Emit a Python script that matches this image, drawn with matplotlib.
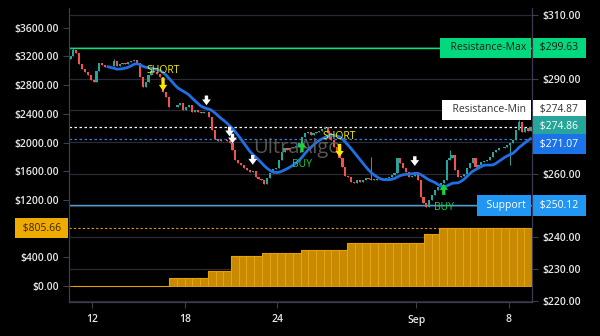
import matplotlib
matplotlib.use("Agg")
import matplotlib.pyplot as plt
import numpy as np
import pandas as pd

plt.rcParams['font.family'] = ['Open Sans', 'DejaVu Sans']

# closing prices, 8 bars per trading day (Aug 11 .. Sep 8)
closes = [
    297.0, 299.0, 298.0, 294.5, 293.0, 292.0, 291.2, 289.6,
    289.0, 292.5, 294.8, 294.2, 293.5, 293.8, 294.0, 295.5,
    294.0, 294.6, 295.0, 294.5, 295.2, 295.6, 295.8, 294.8,
    290.5, 287.5, 289.0, 291.0, 292.5, 292.0, 291.5, 290.6,
    285.8, 284.3, 281.2, 281.0, 281.2, 281.8, 282.2, 280.2,
    281.2, 281.8, 279.6, 280.2, 279.6, 279.3, 279.4, 279.6,
    278.0, 273.9, 271.0, 270.5, 270.8, 270.6, 270.2, 269.8,
    267.6, 264.4, 263.5, 262.9, 261.9, 261.3, 260.7, 260.9,
    259.0, 258.5, 258.1, 256.9, 258.8, 260.3, 261.5, 261.9,
    264.4, 267.0, 268.2, 267.6, 268.2, 268.5, 268.6, 269.8,
    271.5, 273.0, 273.3, 272.3, 273.0, 273.3, 273.6, 274.0,
    274.8, 273.0, 270.8, 268.5, 267.0, 265.0, 262.2, 259.5,
    259.1, 257.5, 257.2, 258.0, 257.5, 258.2, 258.8, 258.5,
    258.1, 258.4, 258.1, 258.0, 258.3, 258.8, 259.0, 259.6,
    260.3, 265.0, 263.5, 262.0, 260.7, 259.1, 259.5, 260.5,
    258.1, 252.8, 250.9, 249.6, 251.8, 253.5, 255.0, 256.0,
    257.2, 258.1, 264.4, 265.1, 266.0, 261.3, 259.1, 259.2,
    260.0, 261.9, 263.5, 265.1, 262.2, 262.9, 263.8, 264.0,
    264.5, 265.4, 266.8, 267.6, 268.0, 268.2, 268.6, 269.1,
    269.6, 270.8, 273.9, 276.3, 273.3, 274.5, 273.4, 274.86,
]
first_open = 296.0
wick_hi = {1: 299.63, 15: 296.2, 104: 265.4, 131: 267.6, 155: 277.0}
wick_lo = {152: 262.9}
bars_per_day = 8
ma_window = 14

# trade signals (bar index)
short_bars = [32, 93]
buy_bars = [80, 129]
exit_bars = [47, 55, 56, 63, 119]

# cumulative profit, 3 bars per trading day
profit = [
    0, 0, 0, 0, 0, 0, 0, 0, 0, 0, 0, 0, 0,
    107, 107, 107, 107, 107,
    205, 205, 205,
    414, 414, 414, 414,
    456, 456, 456, 456, 456,
    497, 497, 497, 497, 497, 497,
    595, 595, 595, 595, 595, 595, 595, 595, 595, 595,
    720, 720,
    805.66, 805.66, 805.66, 805.66, 805.66, 805.66,
    805.66, 805.66, 805.66, 805.66, 805.66, 805.66,
]

resistance_max = 299.63
resistance_min = 274.87
support = 250.12

day_ticks = [1, 5, 9, 15, 19]
day_labels = ["12", "18", "24", "Sep", "8"]
left_ticks = [0, 400, 1200, 1600, 2000, 2400, 2800, 3200, 3600]
right_ticks = [220, 230, 240, 250, 260, 270, 280, 290, 300, 310]
right_shown = [220, 230, 240, 260, 290, 310]

UP, DOWN = '#26a69a', '#ef5350'
GRID = '#2b2b36'
SPINE = '#3d3d52'
TXT = '#e6e6e6'

fig = plt.figure(figsize=(6, 3.36), dpi=100, facecolor='black')
ax = fig.add_axes([69 / 600, 34 / 336, 463 / 600, 294 / 336])
px = ax.twinx()
# profit axes sits above the price axes so its bars hide the price grid
ax.set_zorder(2)
px.set_zorder(1)
ax.patch.set_visible(False)
px.patch.set_visible(True)
px.patch.set_facecolor('black')

ndays = len(closes) / bars_per_day
ax.set_xlim(0, ndays)
ax.set_ylim(-223, 3875)
px.set_ylim(219.7, 312.2)

# grid and axes styling
ax.set_xticks(day_ticks)
ax.set_xticklabels(day_labels)
ax.set_yticks(left_ticks)
ax.set_yticklabels([f"${v:.2f}" for v in left_ticks])
px.set_yticks(right_ticks)
px.set_yticklabels([f"${v:.2f}" if v in right_shown else "" for v in right_ticks])
px.grid(axis='both', color=GRID, lw=0.9)
for a in (ax, px):
    a.tick_params(colors=SPINE, labelcolor=TXT, labelsize=7.5, length=4, width=0.8)
    for s in a.spines.values():
        s.set_color(SPINE)
    a.spines['top'].set_visible(False)
ax.tick_params(axis='x', pad=5)
for lbl in ax.get_xticklabels() + ax.get_yticklabels() + px.get_yticklabels():
    lbl.set_fontweight('semibold')

# profit histogram on the left scale
pbar_x = (np.arange(len(profit)) + 0.5) / 3
ax.bar(pbar_x, profit, width=1 / 3, color='#c88a00', edgecolor='#eaa810',
       linewidth=0.6, zorder=2)
ax.plot(pbar_x, profit, drawstyle='steps-mid', color='#e8a000', lw=0.8, zorder=2)
ax.axhline(profit[-1], color='#e8a000', lw=0.8, ls=(0, (2, 2)), zorder=1)

# candles
c = np.array(closes)
o = np.concatenate([[first_open], c[:-1]])
hi = np.maximum(o, c)
lo = np.minimum(o, c)
for k, v in wick_hi.items():
    hi[k] = max(hi[k], v)
for k, v in wick_lo.items():
    lo[k] = min(lo[k], v)
x = (np.arange(len(c)) + 0.5) / bars_per_day
col = np.where(c >= o, UP, DOWN)
px.vlines(x, lo, hi, colors=col, lw=0.7, zorder=3)
px.bar(x, np.maximum(np.abs(c - o), 0.15), bottom=np.minimum(o, c),
       width=0.75 / bars_per_day, color=col, zorder=3)

# moving average
ma = pd.Series(closes).rolling(ma_window).mean()
px.plot(x, ma, color='#1f6fe5', lw=2, zorder=4)

# levels
px.axhline(resistance_max, color='#00e676', lw=1, zorder=2)
px.axhline(resistance_min, color='white', lw=0.9, ls=(0, (2, 2)), zorder=2)
px.axhline(ma.iloc[-1], color='#2f80ed', lw=0.9, ls=(0, (2, 2)), zorder=2)
px.axhline(support, color='#4a9fd8', lw=1, zorder=2)

px.text(0.492, 0.525, "UltraAlgo", transform=px.transAxes, ha='center', va='center',
        fontsize=14.5, color='#666666', alpha=0.85, zorder=5)

# signals
big = dict(arrowstyle='simple,head_width=0.75,head_length=0.55,tail_width=0.3',
           mutation_scale=8, lw=0, shrinkA=0, shrinkB=0)
small = dict(arrowstyle='simple,head_width=0.9,head_length=0.6,tail_width=0.35',
             mutation_scale=7, lw=0, shrinkA=0, shrinkB=0)
for b in short_bars:
    tip = closes[b] + 0.3
    px.annotate("", xy=(x[b], tip), xytext=(0, 9.5), textcoords='offset points',
                arrowprops=dict(color='#ffe600', **big), zorder=6)
    px.annotate("SHORT", xy=(x[b], tip), xytext=(0, 15), textcoords='offset points',
                ha='center', va='center', fontsize=7.5, color='#f5f000', zorder=6)
for b in buy_bars:
    tip = closes[b] - 1.2
    px.annotate("", xy=(x[b], tip), xytext=(0, -8), textcoords='offset points',
                arrowprops=dict(color='#19d23c', **big), zorder=6)
    px.annotate("BUY", xy=(x[b], tip), xytext=(0, -17), textcoords='offset points',
                ha='center', va='center', fontsize=7.5, color='#19d23c', zorder=6)
for b in exit_bars:
    tip = closes[b] + 2.0
    px.annotate("", xy=(x[b], tip), xytext=(0, 7), textcoords='offset points',
                arrowprops=dict(color='white', **small), zorder=6)


def tag(a, y, text, fc, tc, dx, dy=0, ha='left', side=1):
    a.annotate(text, xy=(side, y), xycoords=a.get_yaxis_transform(),
               xytext=(dx, dy), textcoords='offset points', ha=ha, va='center',
               fontsize=7.5, color=tc, zorder=10, annotation_clip=False,
               bbox=dict(boxstyle='square,pad=0.45', fc=fc, ec='none'))


tag(px, resistance_max, f" ${resistance_max:.2f} ", '#00d97e', '#1a1a1a', 3.9)
tag(px, resistance_max, "  Resistance-Max", '#00d97e', '#1a1a1a', -4.2, ha='right')
tag(px, resistance_min, f" ${resistance_min:.2f} ", 'white', '#333333', 3.9, dy=12)
tag(px, resistance_min, "  Resistance-Min", 'white', '#333333', -4.2, dy=12, ha='right')
tag(px, closes[-1], f" ${closes[-1]:.2f} ", UP, 'white', 3.9)
tag(px, ma.iloc[-1], f" ${ma.iloc[-1]:.2f} ", '#1a73e8', 'white', 3.9, dy=-4)
tag(px, support, f" ${support:.2f} ", '#2196f3', 'white', 3.9)
tag(px, support, "  Support", '#2196f3', 'white', -4.2, ha='right')
tag(ax, profit[-1], f" ${profit[-1]:.2f} ", '#f0ab00', '#3a2800', -3.9, ha='right', side=0)

fig.savefig("out.png", dpi=100, facecolor='black')
